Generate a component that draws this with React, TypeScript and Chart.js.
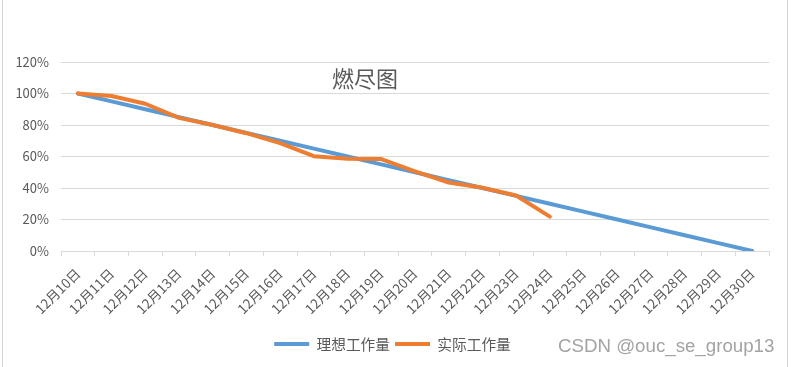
import { useEffect, useRef } from 'react';
import { Chart, registerables } from 'chart.js';

Chart.register(...registerables);

const categories = [
  '12月10日', '12月11日', '12月12日', '12月13日', '12月14日', '12月15日', '12月16日',
  '12月17日', '12月18日', '12月19日', '12月20日', '12月21日', '12月22日', '12月23日',
  '12月24日', '12月25日', '12月26日', '12月27日', '12月28日', '12月29日', '12月30日',
];

const idealValues = [100, 95, 90, 85, 80, 75, 70, 65, 60, 55, 50, 45, 40, 35, 30, 25, 20, 15, 10, 5, 0];

const actualValues = [100, 98.4, 93.5, 84.5, 80, 74.8, 68.5, 60.2, 58.5, 58.4, 50.6, 43.5, 40.2, 35.2, 21.8,
  null, null, null, null, null, null];

const seriesNames = ['理想工作量', '实际工作量'];
const seriesColors = ['#5B9BD5', '#ED7D31'];
const titleText = '燃尽图';
const watermarkText = 'CSDN @ouc_se_group13';

const yMin = 0;
const yMax = 120;
const yStep = 20;

const FONT = "'Noto Sans CJK SC', 'Noto Sans', sans-serif";

const overlayPlugin = {
  id: 'overlayText',
  afterDraw(chart: any) {
    const ctx = chart.ctx;
    ctx.save();
    // frame lines (Excel chart border)
    ctx.strokeStyle = '#d4d4d4';
    ctx.lineWidth = 1;
    ctx.beginPath();
    ctx.moveTo(2.5, 0); ctx.lineTo(2.5, chart.height);
    ctx.moveTo(787.5, 0); ctx.lineTo(787.5, chart.height);
    ctx.stroke();
    // title
    ctx.fillStyle = '#595959';
    ctx.font = `22px ${FONT}`;
    ctx.textAlign = 'center';
    ctx.textBaseline = 'middle';
    ctx.fillText(titleText, 365, 79);
    // watermark
    ctx.fillStyle = '#a3a3a3';
    ctx.font = `18.7px 'Liberation Sans', Arial, sans-serif`;
    ctx.textAlign = 'left';
    ctx.fillText(watermarkText, 558, 347);
    ctx.restore();
  },
};

export default function App() {
  const ref = useRef<HTMLCanvasElement>(null);
  useEffect(() => {
    document.body.style.margin = '0';
    const chart = new Chart(ref.current!, {
      type: 'line',
      data: {
        labels: categories,
        datasets: [
          {
            label: seriesNames[0],
            data: idealValues,
            borderColor: seriesColors[0],
            backgroundColor: seriesColors[0],
            borderWidth: 4,
            pointRadius: 0,
            tension: 0,
            borderJoinStyle: 'round',
            borderCapStyle: 'round',
            order: 1,
          },
          {
            label: seriesNames[1],
            data: actualValues,
            borderColor: seriesColors[1],
            backgroundColor: seriesColors[1],
            borderWidth: 4,
            pointRadius: 0,
            tension: 0,
            borderJoinStyle: 'round',
            borderCapStyle: 'round',
            spanGaps: false,
            order: 0,
          },
        ],
      },
      options: {
        responsive: false,
        animation: false,
        devicePixelRatio: 1,
        font: { family: FONT },
        layout: { padding: { top: 62, left: 16, right: 22, bottom: 5.65 } },
        scales: {
          x: {
            offset: true,
            afterFit(scale: any) { scale.height = 80.65; },
            grid: {
              offset: true,
              drawOnChartArea: false,
              drawTicks: true,
              tickLength: 5,
              color: '#d9d9d9',
            },
            border: { display: true, color: '#d9d9d9' },
            ticks: {
              autoSkip: false,
              minRotation: 45,
              maxRotation: 45,
              padding: 9.3,
              color: '#595959',
              font: { size: 13.5, family: FONT },
            },
          },
          y: {
            min: yMin,
            max: yMax,
            afterFit(scale: any) { scale.width = 45; },
            grid: { color: '#d9d9d9', drawTicks: false },
            border: { display: false },
            ticks: {
              stepSize: yStep,
              padding: 12,
              color: '#595959',
              font: { size: 13, family: FONT },
              callback: (v: any) => `${v}%`,
            },
          },
        },
        plugins: {
          title: { display: false },
          tooltip: { enabled: false },
          legend: {
            position: 'bottom',
            labels: {
              boxWidth: 35,
              boxHeight: 4,
              padding: 5,
              color: '#595959',
              font: { size: 14.7, family: FONT },
              sort: (a: any, b: any) => a.datasetIndex - b.datasetIndex,
              generateLabels: (c: any) =>
                Chart.defaults.plugins.legend.labels.generateLabels(c).map((l: any) => ({
                  ...l,
                  lineWidth: 0,
                  fillStyle: l.strokeStyle,
                })),
            },
          },
        },
      },
      plugins: [overlayPlugin],
    });
    return () => chart.destroy();
  }, []);
  return (
    <div style={{ width: 791, height: 367, background: '#fff' }}>
      <canvas ref={ref} width={791} height={367} style={{ display: 'block' }} />
    </div>
  );
}
